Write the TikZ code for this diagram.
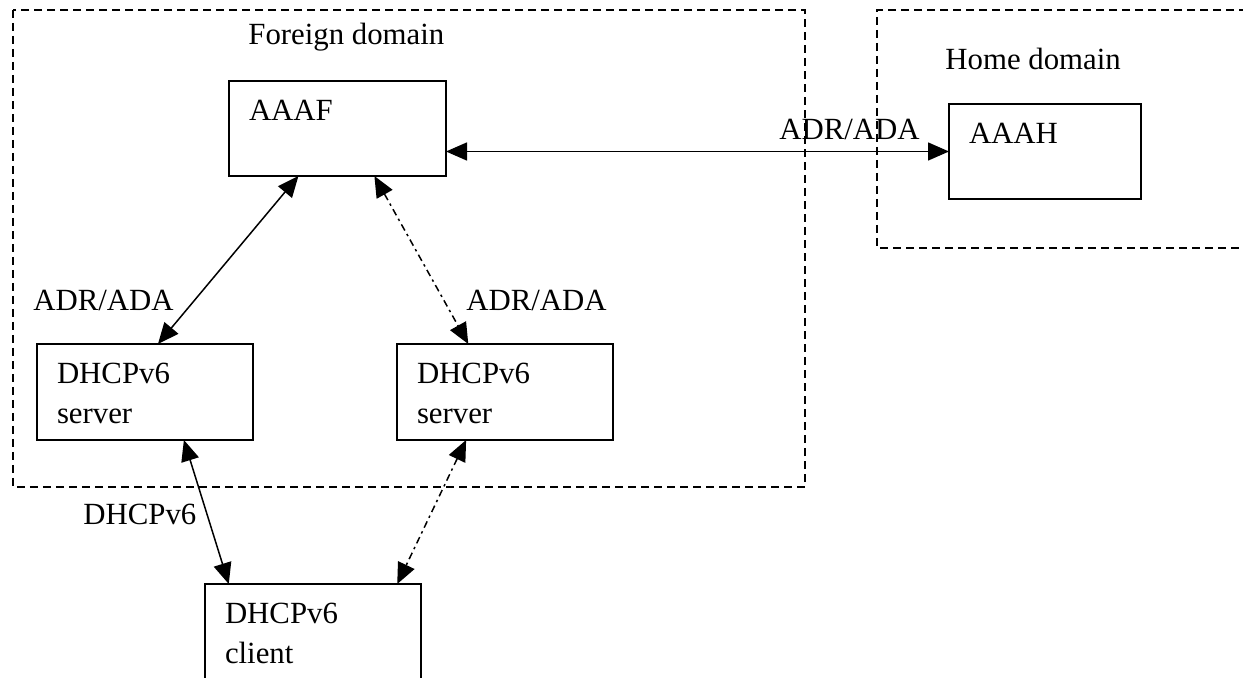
\documentclass[tikz,border=0pt]{standalone}
\usepackage{fontspec}
\setmainfont{Liberation Serif}
\usetikzlibrary{arrows.meta, calc}

\begin{document}
\begin{tikzpicture}[
  x=0.5pt, y=-0.5pt,
  font=\fontsize{15.4}{20}\selectfont,
  box/.style={draw, line width=0.75pt, anchor=north west, inner xsep=10pt, inner ysep=0pt, outer sep=0pt, align=left, text height=20pt},
  lbl/.style={anchor=base west, inner sep=0pt},
  domainbox/.style={draw, line width=0.7pt, dash pattern=on 4pt off 2.5pt},
  arr/.style={{Triangle[length=10.5pt, width=9pt]}-{Triangle[length=10.5pt, width=9pt]}, line width=0.75pt},
  optarr/.style={arr, dash pattern=on 3.5pt off 2pt on 1.2pt off 2pt}
]
  \useasboundingbox (0,0) rectangle (1243,678);

  % domains
  \draw[domainbox] (13,10) rectangle (805,487);
  \draw[domainbox] (1260,10) -- (877,10) -- (877,248) -- (1260,248);
  \node[lbl] (foreign) at (248,45) {Foreign domain};
  \node[lbl] (home) at (945,70) {Home domain};

  % entities
  \node[box, text width=88.5pt, text depth=27.5pt] (aaaf) at (229,81) {AAAF};
  \node[box, text width=76pt, text depth=27.5pt] (aaah) at (949,104) {AAAH};
  \node[box, text width=88pt, text depth=28pt] (srvA) at (37,344) {DHCPv6\\server};
  \node[box, text width=88pt, text depth=28pt] (srvB) at (397,344) {DHCPv6\\server};
  \node[box, text width=88pt, text depth=45pt] (client) at (205,584) {DHCPv6\\client};

  % messages
  \draw[arr] (aaaf.east |- aaah.west) -- (aaah.west);
  \draw[arr] ($(aaaf.south west)!0.32!(aaaf.south east)$) -- ($(srvA.north west)!0.56!(srvA.north east)$);
  \draw[optarr] ($(aaaf.south west)!0.67!(aaaf.south east)$) -- ($(srvB.north west)!0.33!(srvB.north east)$);
  \draw[arr] ($(srvA.south west)!0.68!(srvA.south east)$) -- ($(client.north west)!0.11!(client.north east)$);
  \draw[optarr] ($(srvB.south west)!0.32!(srvB.south east)$) -- ($(client.north west)!0.89!(client.north east)$);

  \node[lbl] (adrTop) at (779,140) {ADR/ADA};
  \node[lbl] (adrLeft) at (33,311) {ADR/ADA};
  \node[lbl] (adrRight) at (466,311) {ADR/ADA};
  \node[lbl] (dhcpLbl) at (83,525) {DHCPv6};
\end{tikzpicture}
\end{document}
